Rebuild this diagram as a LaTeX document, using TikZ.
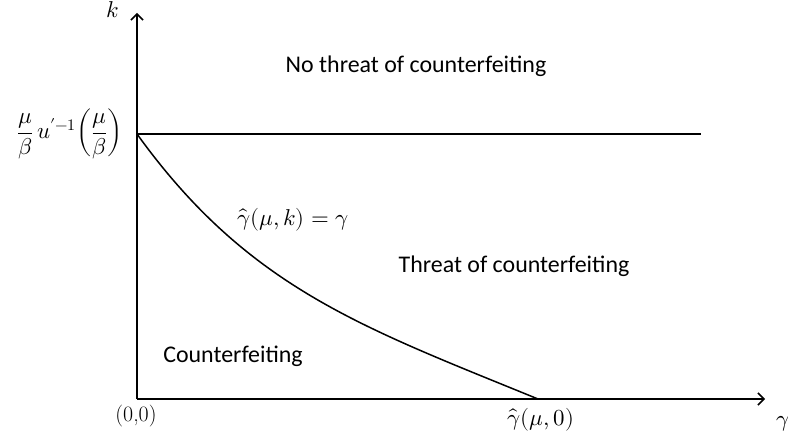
\documentclass[tikz,border=0pt]{standalone}
\usepackage{amsmath}
\usepackage{fontspec}
\usepackage{unicode-math}
\setmathfont{Latin Modern Math}
\setsansfont{Carlito}
\usetikzlibrary{arrows.meta}
\tikzset{
  axis/.style={line width=1.5bp, -{Straight Barb[length=6bp,width=12bp,line width=1.5bp]}},
  curveline/.style={line width=1.5bp},
  region/.style={font=\sffamily\fontsize{24}{28}\selectfont, inner sep=0pt},
  mathlbl/.style={font=\fontsize{23}{27}\selectfont, inner sep=0pt},
}
\begin{document}
\begin{tikzpicture}[x=1bp,y=-1bp]
\useasboundingbox (0,0) rectangle (788,438);
\coordinate (O) at (137,399);
\coordinate (Ytop) at (137,13);
\coordinate (Xend) at (765,399);
\coordinate (K0) at (137,134);
\coordinate (Hend) at (701,134);
\coordinate (G0) at (538,399);
\draw[axis] (O) -- (Ytop);
\draw[axis] (O) -- (Xend);
\draw[curveline] (K0) -- (Hend);
\draw[curveline] (K0) .. controls (248,288) and (362,327) .. (G0);
\node[mathlbl] (klbl) at (113,10) {$k$};
\node[mathlbl] (glbl) at (783,424) {$\gamma$};
\node[mathlbl, font=\rmfamily\fontsize{22}{26}\selectfont] (origin) at (136,416) {(0,0)};
\node[mathlbl] (ghat0) at (541,420) {$\hat{\gamma}(\mu{,}\,0)$};
\node[mathlbl] (curvelbl) at (293,220) {$\hat{\gamma}(\mu{,}\,k)=\gamma$};
\node[mathlbl, anchor=east] (klevel) at (123,134) {$\displaystyle \frac{\mu}{\beta}\,u'^{-1}\!\left(\frac{\mu}{\beta}\right)$};
\node[region] (nothreat) at (416,66) {No threat of counterfeiting};
\node[region] (threat) at (514,266) {Threat of counterfeiting};
\node[region] (counter) at (233,356) {Counterfeiting};
\end{tikzpicture}
\end{document}
